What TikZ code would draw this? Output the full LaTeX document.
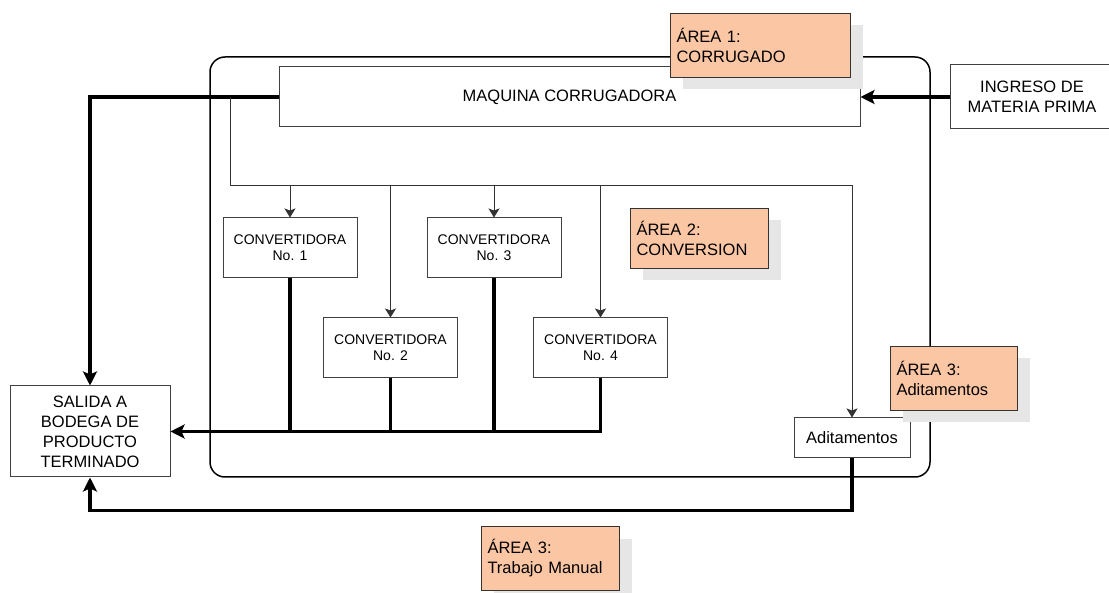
\documentclass[tikz,border=0pt]{standalone}
\usepackage{fontspec}
\setmainfont{Liberation Sans}
\usepackage{tikz}
\usepackage{xcolor}
\usetikzlibrary{shapes.geometric, arrows.meta, positioning, shadows}

\definecolor{areafill}{RGB}{251,198,163}
\definecolor{shade}{RGB}{230,230,230}

\begin{document}
\begin{tikzpicture}[x=1pt, y=-1pt,
  box/.style={draw=black!75, line width=1pt, fill=white, align=center, inner sep=0pt,
    font=\fontsize{16.5}{20}\selectfont},
  convbox/.style={box, minimum width=134pt, minimum height=60pt,
    font=\fontsize{14}{16}\selectfont},
  areabox/.style 2 args={draw=black!80, line width=1pt, fill=areafill, align=left,
    anchor=north west, inner xsep=6pt, inner ysep=0pt, text width=#1, minimum height=#2,
    font=\fontsize{16.5}{20}\selectfont,
    drop shadow={shadow xshift=12pt, shadow yshift=-12pt, fill=shade, opacity=1}},
  thinarrow/.style={draw=black!80, line width=1pt, -{Stealth[length=9pt, width=11pt, inset=2pt]}},
  thickline/.style={line width=3.2pt},
  thickarrow/.style={thickline, -{Stealth[length=14pt, width=14pt, inset=3pt]}}]
\useasboundingbox (0,0) rectangle (1109,593);

\node[draw, line width=1.5pt, rounded corners=15pt, minimum width=720pt, minimum height=420pt] (planta) at (570,267) {};

\node[box, minimum width=581pt, minimum height=60pt] (corr) at (569.5,97) {MAQUINA CORRUGADORA};
\node[box, minimum width=164pt, minimum height=64pt] (ingreso) at (1032,97) {INGRESO DE\\MATERIA PRIMA};
\node[box, minimum width=160pt, minimum height=91pt] (salida) at (90,431.5) {SALIDA A\\BODEGA DE\\PRODUCTO\\TERMINADO};

\node[convbox] (conv1) at (290,248) {CONVERTIDORA\\No. 1};
\node[convbox, right=69pt of conv1] (conv3) {CONVERTIDORA\\No. 3};
\node[convbox] (conv2) at (390.5,348) {CONVERTIDORA\\No. 2};
\node[convbox] (conv4) at (600.5,348) {CONVERTIDORA\\No. 4};
\node[box, minimum width=116pt, minimum height=40pt] (adit) at (852,438) {Aditamentos};

\coordinate (bus) at (230,186);

\draw[thickarrow] (ingreso.west |- corr.east) -- (corr.east);
\draw[thickarrow] (corr.west) -| (salida.north);
\draw[thinarrow] (bus |- corr.west) -- (bus) -| (adit.north);
\foreach \c in {conv1,conv2,conv3,conv4}
  \draw[thinarrow] (\c.north |- bus) -- (\c.north);
\foreach \c in {conv1,conv2,conv3}
  \draw[thickline] (\c.south) -- (\c.south |- salida.east);
\draw[thickarrow] (conv4.south) |- (salida.east);
\draw[thickarrow] (adit.south) -- ++(0,52) -| (salida.south);

\node[areabox={168pt}{64pt}] (area1) at (670,13) {ÁREA 1:\\CORRUGADO};
\node[areabox={126pt}{60pt}] (area2) at (630,208) {ÁREA 2:\\CONVERSION};
\node[areabox={115pt}{64pt}] (area3) at (890,346) {ÁREA 3:\\Aditamentos};
\node[areabox={126pt}{64pt}] (area4) at (481,526) {ÁREA 3:\\Trabajo Manual};
\end{tikzpicture}
\end{document}
